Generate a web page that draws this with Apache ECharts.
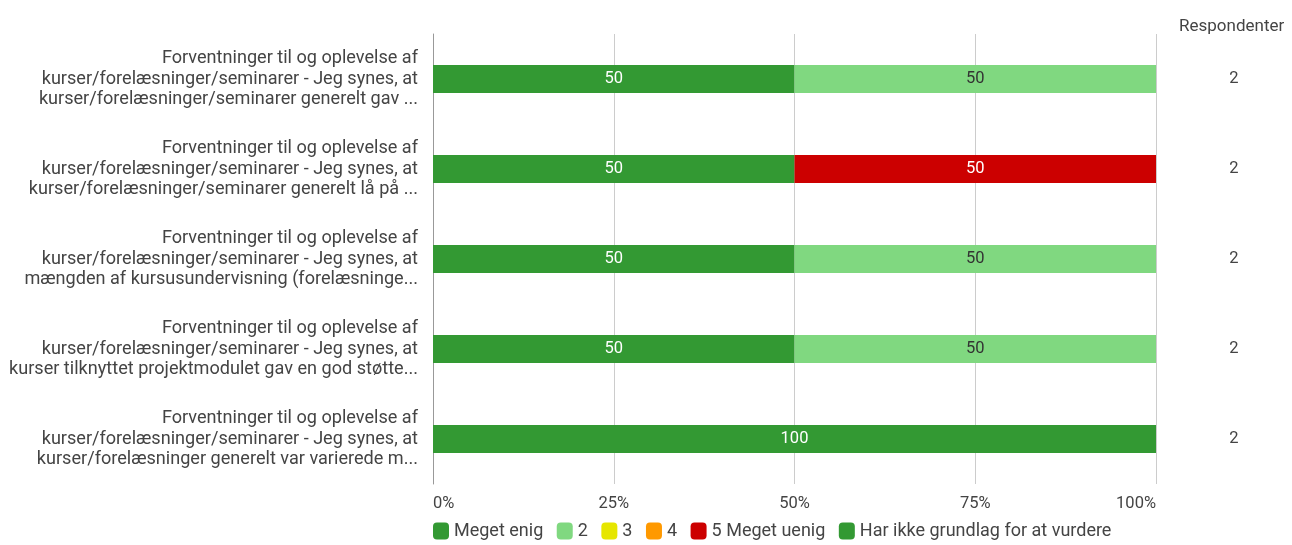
<!DOCTYPE html>
<html><head><meta charset="utf-8">
<script src="https://cdn.jsdelivr.net/npm/echarts@6/dist/echarts.min.js"></script>
<style>html,body{margin:0;padding:0;background:#fff}#c{width:1292px;height:545px}</style>
</head><body><div id="c"></div>
<script>
const categories = [
  "Forventninger til og oplevelse af\nkurser/forelæsninger/seminarer - Jeg synes, at\nkurser/forelæsninger/seminarer generelt gav ...",
  "Forventninger til og oplevelse af\nkurser/forelæsninger/seminarer - Jeg synes, at\nkurser/forelæsninger/seminarer generelt lå på ...",
  "Forventninger til og oplevelse af\nkurser/forelæsninger/seminarer - Jeg synes, at\nmængden af kursusundervisning (forelæsninge...",
  "Forventninger til og oplevelse af\nkurser/forelæsninger/seminarer - Jeg synes, at\nkurser tilknyttet projektmodulet gav en god støtte...",
  "Forventninger til og oplevelse af\nkurser/forelæsninger/seminarer - Jeg synes, at\nkurser/forelæsninger generelt var varierede m..."
];
const respondents = ["2", "2", "2", "2", "2"];
const seriesNames = ["Meget enig", "2", "3", "4", "5 Meget uenig", "Har ikke grundlag for at vurdere"];
const megetEnig = [50, 50, 50, 50, 100];
const s2 = [50, 0, 50, 50, 0];
const s3 = [0, 0, 0, 0, 0];
const s4 = [0, 0, 0, 0, 0];
const s5 = [0, 50, 0, 0, 0];
const harIkke = [0, 0, 0, 0, 0];
const xTicks = [0, 25, 50, 75, 100];

const colors = ["#339933", "#80d880", "#e6e600", "#ff9900", "#cc0000", "#339933"];
const labelColors = ["#fff", "#333", "#333", "#333", "#fff", "#fff"];
const values = [megetEnig, s2, s3, s4, s5, harIkke];

const chart = echarts.init(document.getElementById('c'));
chart.setOption({
  animation: false,
  textStyle: { fontFamily: 'Roboto' },
  color: colors,
  title: {
    text: 'Respondenter', left: 1174, top: 13, padding: [5, 5, 5, 5],
    textStyle: { fontFamily: 'Roboto', fontSize: 17, fontWeight: 'normal', color: '#444' }
  },
  grid: { left: 433, right: 136, top: 34, bottom: 61, containLabel: false },
  legend: {
    bottom: 0, left: 428, itemWidth: 16, itemHeight: 17, itemGap: 13.5,
    icon: 'roundRect',
    textStyle: { fontFamily: 'Roboto', fontSize: 18, color: '#444', padding: [0, 0, 0, 0] },
    data: seriesNames
  },
  xAxis: {
    type: 'value', min: 0, max: 100, interval: 25,
    axisLine: { show: false }, axisTick: { show: false },
    splitLine: { lineStyle: { color: '#cccccc', width: 1 } },
    axisLabel: { formatter: '{value}%', fontSize: 16.5, color: '#444', margin: 11,
      customValues: xTicks, alignMinLabel: 'left', alignMaxLabel: 'right' }
  },
  yAxis: [{
    type: 'category', data: categories, inverse: true,
    axisLine: { show: true, lineStyle: { color: '#999' } },
    axisTick: { show: false },
    axisLabel: { fontSize: 18.1, color: '#444', lineHeight: 20.5, align: 'right', margin: 15 }
  }, {
    type: 'category', data: respondents, inverse: true, position: 'right',
    axisLine: { show: false }, axisTick: { show: false },
    axisLabel: { fontSize: 16.5, color: '#444', align: 'center', margin: 78 }
  }],
  series: seriesNames.map((n, i) => ({
    name: n, type: 'bar', stack: 'total', barWidth: 28,
    data: values[i],
    itemStyle: { color: colors[i] },
    label: {
      show: true, position: 'inside', fontSize: 16.5, color: labelColors[i],
      formatter: p => p.value > 0 ? String(p.value) : ''
    }
  }))
});
</script></body></html>
